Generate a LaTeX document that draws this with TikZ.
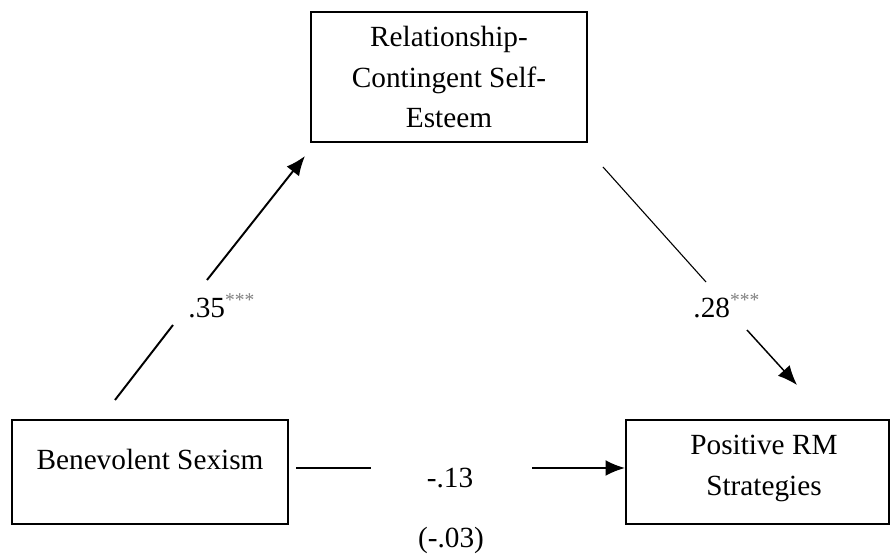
\documentclass[tikz,border=0pt]{standalone}
\usepackage{fontspec}
\setmainfont{Liberation Serif}
\usetikzlibrary{positioning,arrows.meta}

\newcommand{\px}{0.41pt}

\begin{document}
\begin{tikzpicture}
                [x=\px,y=-\px,>={Latex[length=8pt,width=6.5pt]},
                box/.style={draw,line width=0.8pt,inner sep=0pt},
                txt/.style={align=center,inner sep=0pt,font=\fontsize{12}{16.8}\selectfont},
                coef/.style={inner sep=1pt,font=\fontsize{12}{14}\selectfont},
                link/.style={line width=0.8pt}]

                \useasboundingbox (0,0) rectangle (891,554);

                % boxes
                \node[box,minimum width=276*\px,minimum height=130*\px] (rcse) at (449,77) {};
                \node[txt] (rcse-text) at (449,77) {Relationship-\\Contingent Self-\\Esteem};
                \node[box,minimum width=276*\px,minimum height=104*\px] (bs) at (150,472) {};
                \node[txt] (bs-text) at (150,459) {Benevolent Sexism};
                \node[box,minimum width=263*\px,minimum height=104*\px] (prm) at (757.5,472) {};
                \node[txt] (prm-text) at (764,468) {Positive RM\\Strategies};

                % coefficients
                \node[coef] (a) at (222,306) {.35\textsuperscript{\color{gray}***}};
                \node[coef] (b) at (727,306) {.28\textsuperscript{\color{gray}***}};
                \node[coef] (c) at (450,478) {-.13};
                \node[coef] (cc) at (451,540) {(-.03)};

                % end points of the broken paths
                \coordinate (a1) at (115,400);
                \coordinate (a2) at (173,325);
                \coordinate (a3) at (207,280);
                \coordinate (a4) at (305,156);
                \coordinate (b1) at (603,167);
                \coordinate (b2) at (706,282);
                \coordinate (b3) at (747,330);
                \coordinate (b4) at (797,385);
                \coordinate (c1) at (296,468);
                \coordinate (c2) at (371,468);
                \coordinate (c3) at (532,468);

                \draw[link] (a1) -- (a2);
                \draw[link,->] (a3) -- (a4);
                \draw[line width=0.45pt] (b1) -- (b2);
                \draw[line width=0.6pt,->] (b3) -- (b4);
                \draw[link] (c1) -- (c2);
                \draw[link,->] (c3) -- (prm.west |- c3);

            \end{tikzpicture}
\end{document}
